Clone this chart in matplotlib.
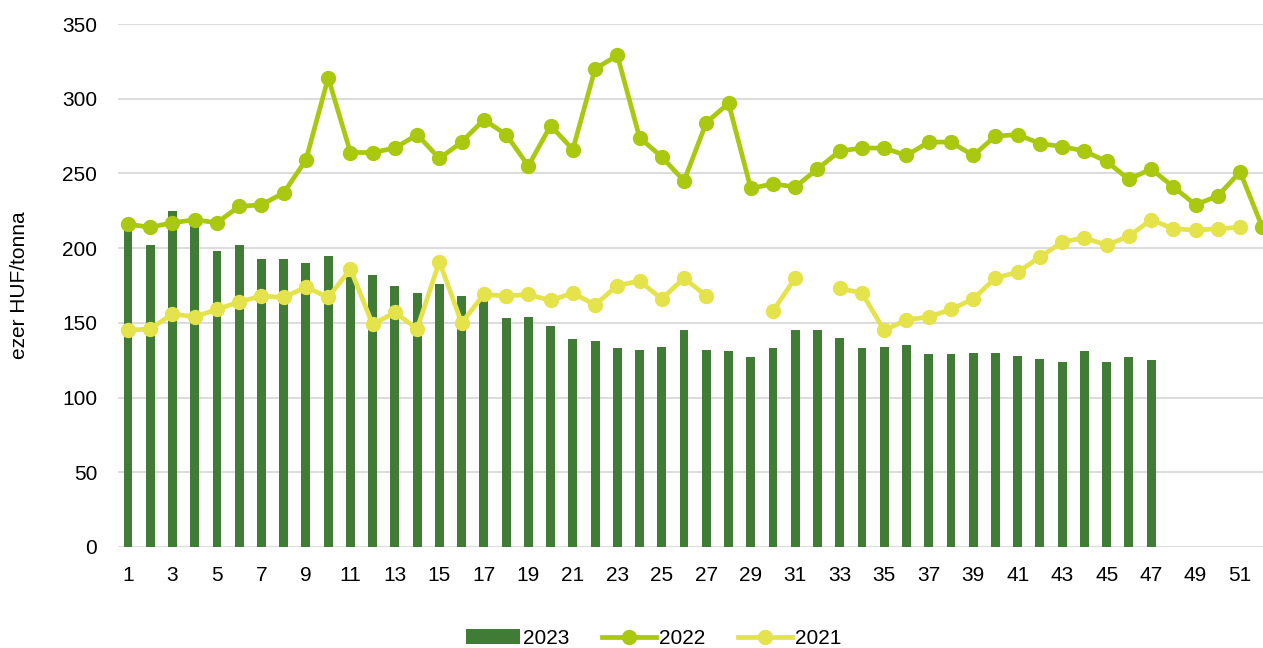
import numpy as np
import matplotlib
matplotlib.use('Agg')
import matplotlib.pyplot as plt

weeks = np.arange(1, 53)

vals_2023 = [214, 202, 225, 218, 198, 202, 193, 193, 190, 195,
             181, 182, 175, 170, 176, 168, 166, 153, 154, 148,
             139, 138, 133, 132, 134, 145, 132, 131, 127, 133,
             145, 145, 140, 133, 134, 135, 129, 129, 130, 130,
             128, 126, 124, 131, 124, 127, 125]

vals_2022 = [216, 214, 217, 219, 217, 228, 229, 237, 259, 314,
             264, 264, 267, 276, 260, 271, 286, 276, 255, 282,
             266, 320, 329, 274, 261, 245, 284, 297, 240, 243,
             241, 253, 265, 267, 267, 262, 271, 271, 262, 275,
             276, 270, 268, 265, 258, 246, 253, 241, 229, 235,
             251, 214]

vals_2021 = [145, 146, 156, 154, 159, 164, 168, 167, 174, 167,
             186, 149, 157, 146, 191, 150, 169, 168, 169, 165,
             170, 162, 175, 178, 166, 180, 168, np.nan, np.nan, 158,
             180, np.nan, 173, 170, 145, 152, 154, 159, 166, 180,
             184, 194, 204, 207, 202, 208, 219, 213, 212, 213,
             214, np.nan]

c23 = '#417C37'
c22 = '#A9C80F'
c21 = '#E4E34B'

plt.rcParams['font.family'] = ['Liberation Sans', 'DejaVu Sans']
fs = 15

fig = plt.figure(figsize=(12.63, 6.48), dpi=100)
ax = fig.add_axes([118 / 1263, 101 / 648, 1145 / 1263, 523 / 648])

ax.bar(weeks[:len(vals_2023)], vals_2023, width=0.4, color=c23, label='2023', zorder=2)
ax.plot(weeks, vals_2022, color=c22, lw=3.4, marker='o', ms=10, label='2022', zorder=3)
ax.plot(weeks, vals_2021, color=c21, lw=3.4, marker='o', ms=10, label='2021', zorder=4)

ax.set_xlim(0.55, 52.03)
ax.set_ylim(0, 350)
ax.set_yticks(range(0, 351, 50))
ax.set_xticks(range(1, 52, 2))
ax.grid(axis='y', color='#D9D9D9', lw=1.3, zorder=0)
ax.set_axisbelow(True)
for s in ax.spines.values():
    s.set_visible(False)
ax.tick_params(axis='both', length=0, labelsize=fs, colors='black')
ax.tick_params(axis='x', pad=14)
ax.tick_params(axis='y', pad=15)
ax.set_ylabel('ezer HUF/tonna', fontsize=fs, labelpad=24)

h, l = ax.get_legend_handles_labels()
order = [l.index('2023'), l.index('2022'), l.index('2021')]
ax.legend([h[i] for i in order], [l[i] for i in order],
          loc='center', bbox_to_anchor=(0.5 - 37 / 1145, -0.175), ncol=3, frameon=False,
          fontsize=fs, handlelength=2.6, handletextpad=0.15, columnspacing=1.55)

fig.savefig('out.png', dpi=100)
